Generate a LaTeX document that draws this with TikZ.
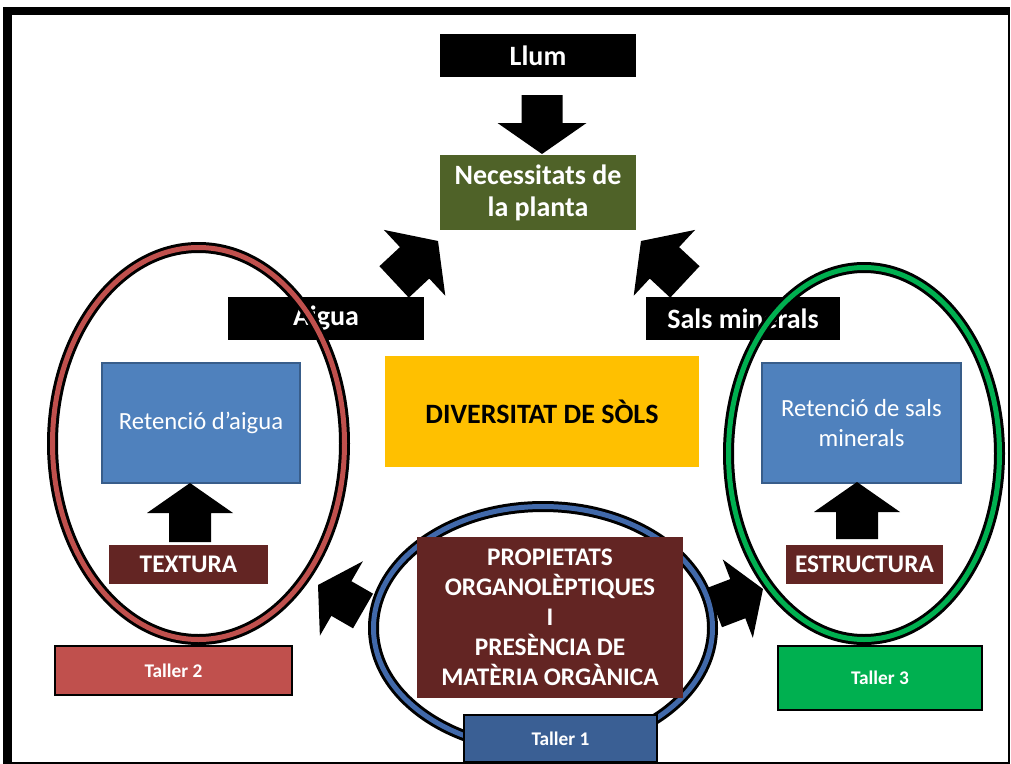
\documentclass[tikz,border=0pt]{standalone}
\usepackage{fontspec}
\setmainfont{Carlito}
\usetikzlibrary{shapes.geometric}

\definecolor{olivebox}{RGB}{79,98,40}
\definecolor{bluebox}{RGB}{79,129,189}
\definecolor{blueedge}{RGB}{56,93,138}
\definecolor{wine}{RGB}{99,37,35}
\definecolor{sunny}{RGB}{255,192,0}
\definecolor{brick}{RGB}{192,80,77}
\definecolor{leaf}{RGB}{0,176,80}
\definecolor{navy}{RGB}{58,95,148}
\definecolor{ringblue}{RGB}{65,105,170}

% block arrow: tip, direction (deg), total length, head length, head width, shaft width
\newcommand{\blockarrow}[6]{%
  \fill[black, shift={#1}, rotate=#2]
    (0,0) -- (-#4,#5/2) -- (-#4,#6/2) -- (-#3,#6/2) -- (-#3,-#6/2)
    -- (-#4,-#6/2) -- (-#4,-#5/2) -- cycle;}

\tikzset{
  wh/.style 2 args={minimum width=#1*0.75pt, minimum height=#2*0.75pt},
  box/.style={rectangle, inner sep=0pt, align=center, text=white,
    font=\bfseries\fontsize{21}{24}\selectfont},
  blackbox/.style={box, fill=black},
  bluecell/.style={box, fill=bluebox, draw=blueedge, line width=1.2pt,
    font=\fontsize{18.5}{22.5}\selectfont},
  winebox/.style={box, fill=wine, font=\bfseries\fontsize{19}{22.5}\selectfont},
  tallerbox/.style={box, draw=black, line width=2pt,
    font=\bfseries\fontsize{14.5}{16}\selectfont},
  ring/.style={ellipse, inner sep=0pt, draw=black, line width=2.25pt,
    double=#1, double distance=3.75pt}
}

\begin{document}
\begin{tikzpicture}[x=0.75pt, y=-0.75pt]
\useasboundingbox (0,0) rectangle (1011,764);

% frame
\fill[black] (3,7) rectangle (1010,764);
\fill[white] (12,15) rectangle (1008,762);

% top: light and the plant's needs
\node[blackbox, wh={196}{43}] (llum) at (538,55.5) {Llum};
\node[box, fill=olivebox, wh={196}{75}] (nec) at (538,192.5)
  {Necessitats de\\la planta};
\coordinate (downtip) at (542,154);
\blockarrow{(downtip)}{-90}{59}{31}{89}{41}

% water and mineral salts
\node[blackbox, wh={196}{43}] (aigua) at (326,318.5) {Aigua};
\node[blackbox, wh={194}{43}] (sals) at (743,318.5) {Sals minerals};
\coordinate (ltip) at (438,241);
\coordinate (rtip) at (641,241);
\blockarrow{(ltip)}{43}{60}{32}{90}{43}
\blockarrow{(rtip)}{137}{60}{32}{90}{43}

% centre
\node[box, fill=sunny, text=black, wh={314}{111}] (div) at (542,411.5)
  {DIVERSITAT DE SÒLS};

% arrows leaving the central workshop
\coordinate (bltip) at (318,585);
\coordinate (brtip) at (763,589);
\blockarrow{(bltip)}{150}{52}{27}{86}{40}
\blockarrow{(brtip)}{21}{52}{27}{84}{42}

% workshop rings
\node[ring=brick, wh={292}{392}] (ring2) at (198.5,443.5) {};
\node[ring=leaf, wh={271}{372}] (ring3) at (864,453.5) {};
\node[ring=ringblue, wh={339}{243}] (ring1) at (543,628) {};

% left workshop
\node[bluecell, wh={198}{120}] (ret1) at (201,423) {Retenció d’aigua};
\node[winebox, wh={159}{39}] (tex) at (188.5,564.5) {TEXTURA};
\coordinate (uptip1) at (190,483);
\blockarrow{(uptip1)}{90}{59}{30}{86}{42}

% right workshop
\node[bluecell, wh={199}{120}] (ret2) at (861.5,423)
  {Retenció de sals\\minerals};
\node[winebox, wh={157}{39}] (est) at (864.5,564.5) {ESTRUCTURA};
\coordinate (uptip2) at (857,482);
\blockarrow{(uptip2)}{90}{57}{30}{86}{42}

% central workshop
\node[winebox, wh={266}{161}] (prop) at (550,617.5)
  {PROPIETATS\\ORGANOLÈPTIQUES\\I\\PRESÈNCIA DE\\MATÈRIA ORGÀNICA};

% workshop labels
\node[tallerbox, fill=brick, wh={237}{49}] (t2) at (173.5,670.5) {Taller 2};
\node[tallerbox, fill=leaf, wh={204}{64}] (t3) at (880,678) {Taller 3};
\node[tallerbox, fill=navy, wh={193}{47}] (t1) at (560.5,738.5) {Taller 1};
\end{tikzpicture}
\end{document}
